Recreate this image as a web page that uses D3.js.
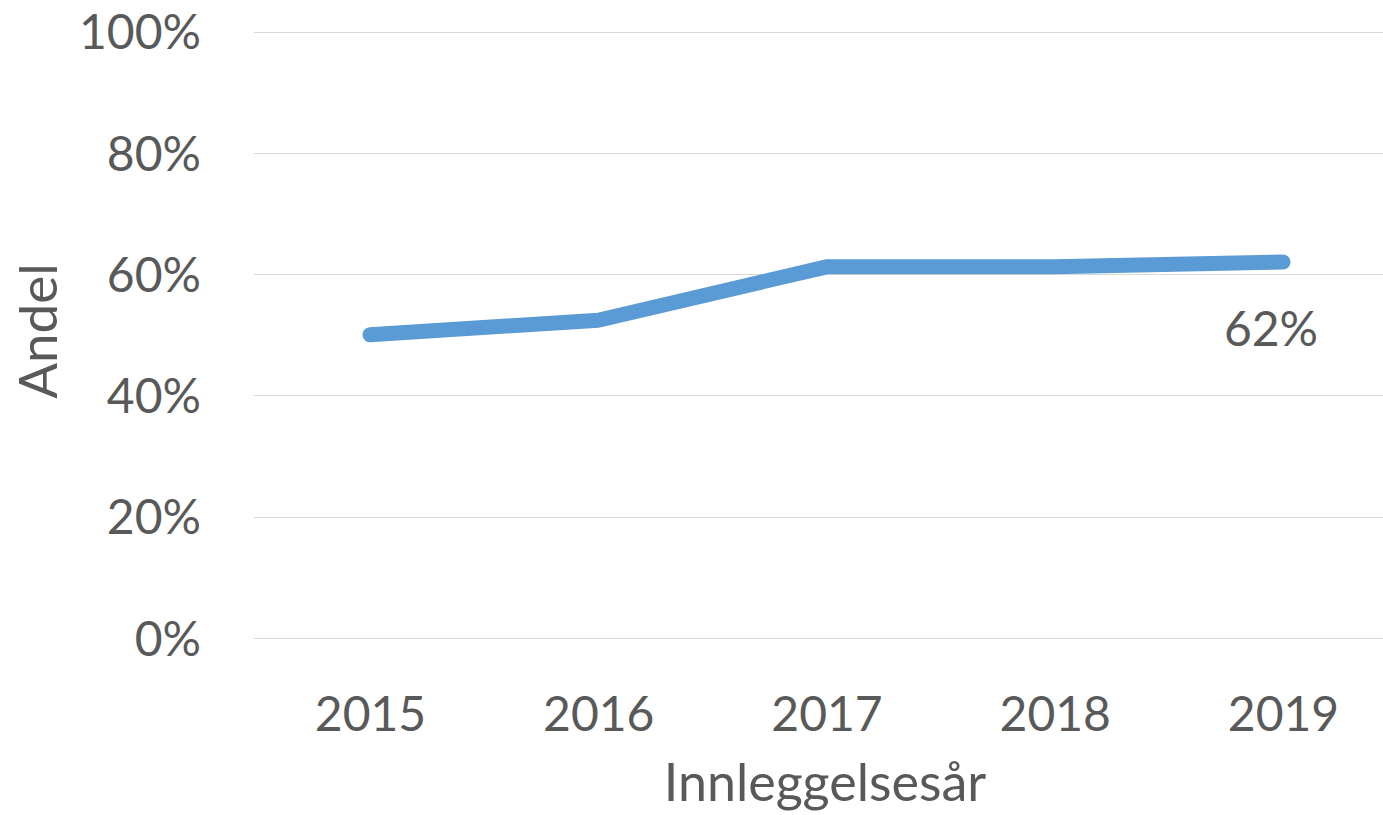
<!DOCTYPE html>
<html>
<head>
<meta charset="utf-8">
<script src="https://cdn.jsdelivr.net/npm/d3@7"></script>
<style>
  body { margin: 0; background: #fff; }
  text { font-family: Lato, "Open Sans", sans-serif; fill: #595959; }
</style>
</head>
<body>
<svg id="chart" width="1383" height="815"></svg>
<script>
const years = ['2015', '2016', '2017', '2018', '2019'];
const andel = [0.50, 0.524, 0.612, 0.612, 0.62];
const yTicks = [0, 0.2, 0.4, 0.6, 0.8, 1.0];
const lastLabel = '62%';

const svg = d3.select('#chart');
const GREY = '#595959', BLUE = '#5b9bd5';

const x = d3.scalePoint().domain(years).range([370, 1283]);
const y = d3.scaleLinear().domain([0, 1]).range([638, 31.5]);

// gridlines
svg.append('g').selectAll('line').data(yTicks)
  .enter().append('line')
  .attr('x1', 254).attr('x2', 1383)
  .attr('y1', d => Math.round(y(d)) + 0.5)
  .attr('y2', d => Math.round(y(d)) + 0.5)
  .attr('stroke', '#d9d9d9').attr('stroke-width', 1.2);

// y axis labels
const yAxis = d3.axisLeft(y).tickValues(yTicks).tickSize(0).tickPadding(0)
  .tickFormat(d => Math.round(d * 100) + '%');
const yG = svg.append('g').attr('transform', 'translate(201,0)').call(yAxis);
yG.select('.domain').remove();
yG.selectAll('text').attr('font-size', 48).attr('dy', '0.36em')
  .style('font-family', 'Lato, sans-serif').attr('fill', GREY);

// x axis labels
const xAxis = d3.axisBottom(x).tickSize(0).tickPadding(0);
const xG = svg.append('g').attr('transform', 'translate(0,731)').call(xAxis);
xG.select('.domain').remove();
xG.selectAll('text').attr('font-size', 48).attr('dy', 0)
  .style('font-family', 'Lato, sans-serif').attr('fill', GREY);

// line
const line = d3.line()
  .x((d, i) => x(years[i]))
  .y(d => y(d));

svg.append('path')
  .attr('d', line(andel))
  .attr('fill', 'none')
  .attr('stroke', BLUE)
  .attr('stroke-width', 15)
  .attr('stroke-linecap', 'round')
  .attr('stroke-linejoin', 'round');

// data label on last point
svg.append('text')
  .attr('x', x(years[4]) - 12)
  .attr('y', y(andel[4]) + 84)
  .attr('text-anchor', 'middle')
  .attr('font-size', 48)
  .text(lastLabel);

// axis titles
svg.append('text')
  .attr('transform', 'translate(57,331) rotate(-90)')
  .attr('text-anchor', 'middle')
  .attr('font-size', 53)
  .text('Andel');

svg.append('text')
  .attr('x', 825).attr('y', 801)
  .attr('text-anchor', 'middle')
  .attr('font-size', 52)
  .text('Innleggelsesår');
</script>
</body>
</html>
